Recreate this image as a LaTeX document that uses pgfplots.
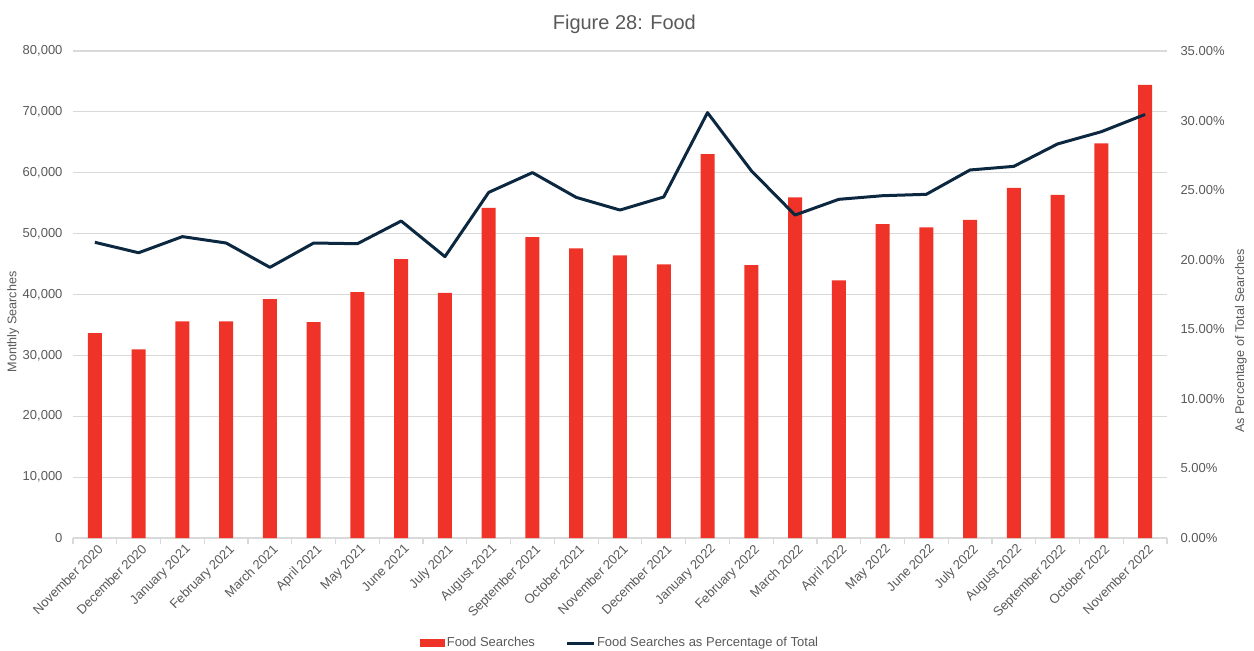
\documentclass[border=0pt]{standalone}
\usepackage{fontspec}
\setmainfont{Liberation Sans}
\usepackage{pgfplots}
\pgfplotsset{compat=1.18}
\definecolor{barred}{RGB}{239,51,41}
\definecolor{navy}{RGB}{12,40,64}
\definecolor{txt}{RGB}{89,89,89}
\definecolor{gridc}{RGB}{217,217,217}
\newcommand{\tfont}{\fontsize{13}{15}\selectfont}
\newcommand{\lfont}{\fontsize{12.6}{15}\selectfont}
\begin{document}
\begin{tikzpicture}
\useasboundingbox (-73pt,-113pt) rectangle (1181pt,538pt);
\begin{axis}[
  at={(0,0)}, anchor=south west,
  scale only axis, width=1094pt, height=487pt,
  xmin=-0.5, xmax=24.5, ymin=0, ymax=80000,
  ybar, bar width=14pt,
  axis x line*=bottom, axis y line*=left,
  x axis line style={-, draw=gridc, line width=1.3pt},
  y axis line style={draw=none},
  xtick={0,...,24},
  xticklabels={November 2020,December 2020,January 2021,February 2021,March 2021,April 2021,May 2021,June 2021,July 2021,August 2021,September 2021,October 2021,November 2021,December 2021,January 2022,February 2022,March 2022,April 2022,May 2022,June 2022,July 2022,August 2022,September 2022,October 2022,November 2022},
  minor xtick={-0.5,0.5,...,24.5},
  major tick length=0pt, minor tick length=6pt, tick align=outside,
  minor x tick style={draw=gridc, line width=1.2pt},
  ytick={0,10000,...,80000},
  ytick style={draw=none},
  scaled y ticks=false,
  /pgf/number format/assume math mode=true,
  /pgf/number format/fixed,
  /pgf/number format/1000 sep={,},
  ticklabel style={font=\tfont, text=txt},
  xticklabel style={rotate=45, anchor=north east, inner sep=2pt, yshift=-3pt},
  yticklabel style={xshift=-7pt},
  ymajorgrids, grid style={draw=gridc, line width=1.2pt},
  ylabel={Monthly Searches},
  ylabel style={at={(axis description cs:-0.0548,0.4435)}, anchor=center, font=\lfont, text=txt},
  title={Figure 28: Food},
  title style={at={(axis description cs:0.504,1.042)}, anchor=center, font=\fontsize{20}{24}\selectfont, text=txt},
  legend style={draw=none, fill=none, at={(axis description cs:0.5,-0.2156)}, anchor=center, legend columns=2, font=\tfont, text=txt,
    /tikz/every even column/.append style={column sep=28pt}},
  legend cell align=left,
]
\addplot[fill=barred, draw=none, legend image code/.code={\fill[barred] (0pt,-4pt) rectangle (25pt,4pt);}] coordinates {
(0,33660) (1,30980) (2,35580) (3,35580) (4,39240) (5,35470) (6,40390) (7,45810) (8,40280) (9,54240)
(10,49420) (11,47570) (12,46420) (13,44940) (14,63050) (15,44830) (16,55940) (17,42310) (18,51560) (19,51010)
(20,52270) (21,57520) (22,56380) (23,64810) (24,74440)};
\addlegendentry{Food Searches}
\addlegendimage{legend image code/.code={\draw[navy, line width=3pt] (0pt,0pt) -- (27pt,0pt);}}
\addlegendentry{Food Searches as Percentage of Total}
\end{axis}
\begin{axis}[
  at={(0,0)}, anchor=south west,
  scale only axis, width=1094pt, height=487pt,
  xmin=-0.5, xmax=24.5, ymin=0, ymax=35,
  axis x line=none, axis y line*=right,
  y axis line style={draw=none},
  ytick={0,5,...,35}, ytick style={draw=none},
  /pgf/number format/assume math mode=true,
  yticklabel={\pgfmathprintnumber[fixed,fixed zerofill,precision=2]{\tick}\%},
  ticklabel style={font=\tfont, text=txt},
  yticklabel style={xshift=10pt},
  ylabel={As Percentage of Total Searches},
  ylabel style={at={(axis description cs:1.0676,0.4045)}, anchor=center, font=\lfont, text=txt},
]
\addplot[navy, line width=3pt, mark=none, line join=round] coordinates {
(0,21.25) (1,20.5) (2,21.66) (3,21.2) (4,19.45) (5,21.2) (6,21.15) (7,22.78) (8,20.22) (9,24.84)
(10,26.26) (11,24.48) (12,23.57) (13,24.51) (14,30.57) (15,26.4) (16,23.21) (17,24.34) (18,24.6) (19,24.7)
(20,26.45) (21,26.71) (22,28.32) (23,29.2) (24,30.44)};
\end{axis}
\end{tikzpicture}
\end{document}
